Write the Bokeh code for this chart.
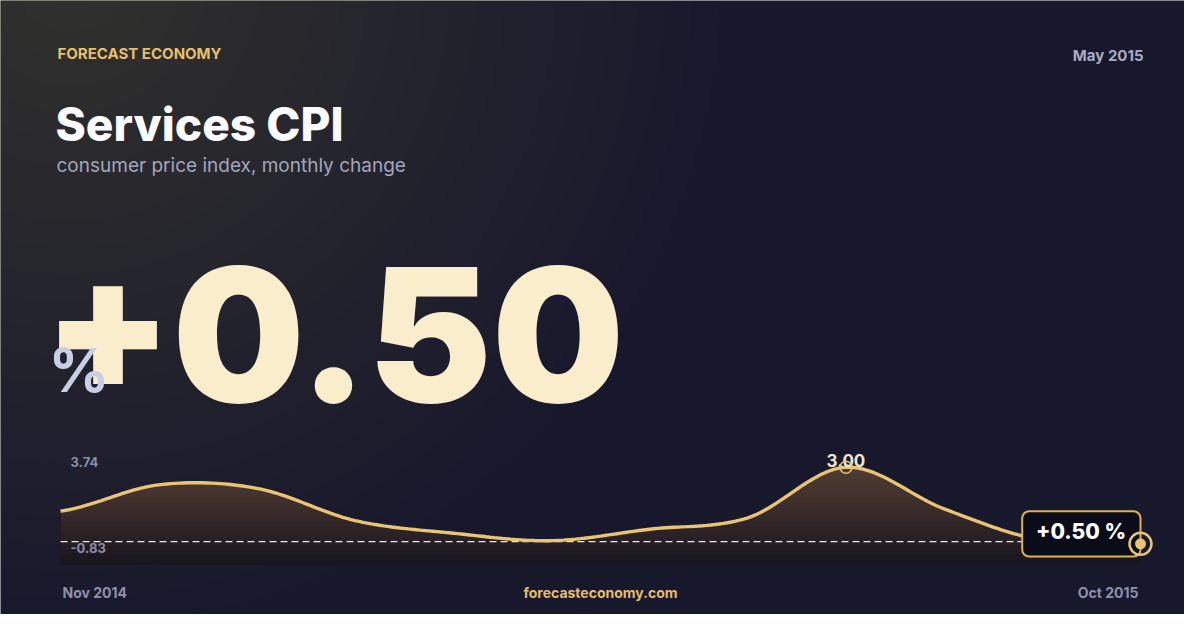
import numpy as np
from bokeh.plotting import figure
from bokeh.models import Range1d, BoxAnnotation
from bokeh.core.properties import value
from bokeh.embed import file_html
from bokeh.resources import INLINE

# ---------------- data ----------------
months = ["Nov 2014", "Dec 2014", "Jan 2015", "Feb 2015", "Mar 2015", "Apr 2015",
          "May 2015", "Jun 2015", "Jul 2015", "Aug 2015", "Sep 2015", "Oct 2015"]
cpi_change = [1.23, 2.29, 2.15, 0.85, 0.34, 0.04, 0.50, 0.96, 3.00, 1.32, 0.05, -0.09]
featured_month = "May 2015"
y_lo, y_hi = -0.83, 3.74

brand = "FORECAST ECONOMY"
title = "Services CPI"
subtitle = "consumer price index, monthly change"
site = "forecasteconomy.com"

# ---------------- page geometry ----------------
W, H = 1184, 614
GOLD = "#e9c474"
BASE_SHIFT = 0.376  # baseline correction (fraction of font size)

def cx(X):
    return X

def cy(Y):
    return H - Y

p = figure(width=W, height=H, output_backend="svg", toolbar_location=None,
           x_range=Range1d(0, W), y_range=Range1d(0, H),
           x_axis_location=None, y_axis_location=None, min_border=0)
p.background_fill_color = "#18182d"
p.border_fill_color = "#18182d"
p.outline_line_color = None
p.xgrid.visible = False
p.ygrid.visible = False

# warm glow in top-left corner
for r in np.linspace(650, 30, 24):
    p.circle(x=[70], y=[H + 25], radius=r, fill_color="#786036", fill_alpha=0.0145, line_color=None)
# faint cool glow lower right
for r in np.linspace(520, 60, 10):
    p.circle(x=[W], y=[0], radius=r, fill_color="#24244c", fill_alpha=0.025, line_color=None)

# ---------------- sparkline scales ----------------
n = len(cpi_change)
x_first, x_last = cx(60), cx(1140)
ppx = (x_last - x_first) / (n - 1)
p.extra_x_ranges = {"spark": Range1d(0 - x_first / ppx, (n - 1) + (W - x_last) / ppx)}
lo_px, hi_px = cy(561.7), cy(448.4)
ppy = (hi_px - lo_px) / (y_hi - y_lo)
p.extra_y_ranges = {"spark": Range1d(y_lo - lo_px / ppy, y_hi + (H - hi_px) / ppy)}
floor = y_lo - 2.6 / ppy
SP = dict(x_range_name="spark", y_range_name="spark")

# smooth curve (Catmull-Rom through the monthly values)
vals = np.array(cpi_change, dtype=float)
pts = np.concatenate([[vals[0]], vals, [vals[-1]]])
sx, sy = [], []
for i in range(n - 1):
    p0, p1, p2, p3 = pts[i], pts[i + 1], pts[i + 2], pts[i + 3]
    for t in np.linspace(0, 1, 24, endpoint=False):
        yv = 0.5 * (2 * p1 + (-p0 + p2) * t + (2 * p0 - 5 * p1 + 4 * p2 - p3) * t ** 2
                    + (-p0 + 3 * p1 - 3 * p2 + p3) * t ** 3)
        sx.append(i + t)
        sy.append(yv)
sx.append(n - 1)
sy.append(vals[-1])
sx = np.array(sx)
sy = np.array(sy)

# area fill with vertical gradient
p.varea(x=sx, y1=floor, y2=sy, fill_color="#16141e", fill_alpha=1.0, **SP)
for t in np.linspace(floor, y_hi, 25)[:-1]:
    p.varea(x=sx, y1=t, y2=np.maximum(sy, t), fill_color="#e0c07e", fill_alpha=0.0145, **SP)

# zero reference line
p.line(x=[0, n - 1], y=[0, 0], line_color="white", line_alpha=0.9, line_width=1.3,
       line_dash="7 4", **SP)

# main line
p.line(x=sx, y=sy, line_color=GOLD, line_width=3.4, **SP)

# peak label + ring
imax = int(np.argmax(vals))
p.text(x=[imax], y=[vals[imax]], text=[f"{vals[imax]:.2f}"], text_font=value("Inter"),
       text_font_size="17px", text_font_style="bold", text_color="#ede6d6",
       text_align="center", text_baseline="alphabetic", y_offset=-BASE_SHIFT * 17, **SP)
p.scatter(x=[imax], y=[vals[imax]], size=12, marker="circle", fill_color=None,
          line_color=GOLD, line_width=1.5, **SP)

def label(X, Y, s, size, color, align="left", bold=True, font="Inter"):
    r = p.text(x=[cx(X)], y=[cy(Y - BASE_SHIFT * size)], text=[s], text_font=value(font),
               text_font_size=f"{size}px", text_font_style="bold" if bold else "normal",
               text_color=color, text_align=align, text_baseline="alphabetic")
    return r

# axis range labels
label(70, 466.5, f"{y_hi:.2f}", 13, "#8b8ea9")
label(70, 552, f"{y_lo:.2f}", 13, "#8b8ea9")

# callout box
featured_val = cpi_change[months.index(featured_month)]
box = BoxAnnotation(left=cx(1021.7), right=cx(1140), top=cy(510.7), bottom=cy(556),
                    fill_color="#0b0c1a", fill_alpha=1.0, line_color="#d9b25a",
                    line_alpha=1.0, line_width=2, border_radius=7)
p.add_layout(box)
lbl = label(1080.5, 539, f"{featured_val:+.2f} %", 21, "#ffffff", align="center",
            font="Inter ExtraBold, Inter")
lbl.level = "overlay"

# end marker
ring = p.scatter(x=[n - 1], y=[vals[-1]], size=22, marker="circle", fill_color=None,
                 line_color=GOLD, line_width=2.5, **SP)
dot = p.scatter(x=[n - 1], y=[vals[-1]], size=11, marker="circle", fill_color=GOLD,
                line_color=None, **SP)
ring.level = "overlay"
dot.level = "overlay"

# ---------------- header texts ----------------
label(57, 59, brand, 15, "#e6bf6c")
label(1143, 61, featured_month, 15, "#a9abc4", align="right")
label(55, 141, title, 46, "#fafaff", font="Inter ExtraBold, Inter")
label(56, 172, subtitle, 19, "#a3a5bf", bold=False)

# big number
label(43, 404, f"{featured_val:+.2f}", 186, "#f9edcc", font="Inter Black, Inter")
label(48, 392, "%", 60, "#c9cde6")

# bottom texts
label(62, 597, months[0], 14, "#8d90ad")
label(600, 597, site, 14, "#e2bd6b", align="center")
label(1138, 597, months[-1], 14, "#8d90ad", align="right")

html = file_html(p, INLINE)
html = html.replace("<body>", '<body style="background-color:#1a1a31;">', 1)
open("out.html", "w").write(html)
